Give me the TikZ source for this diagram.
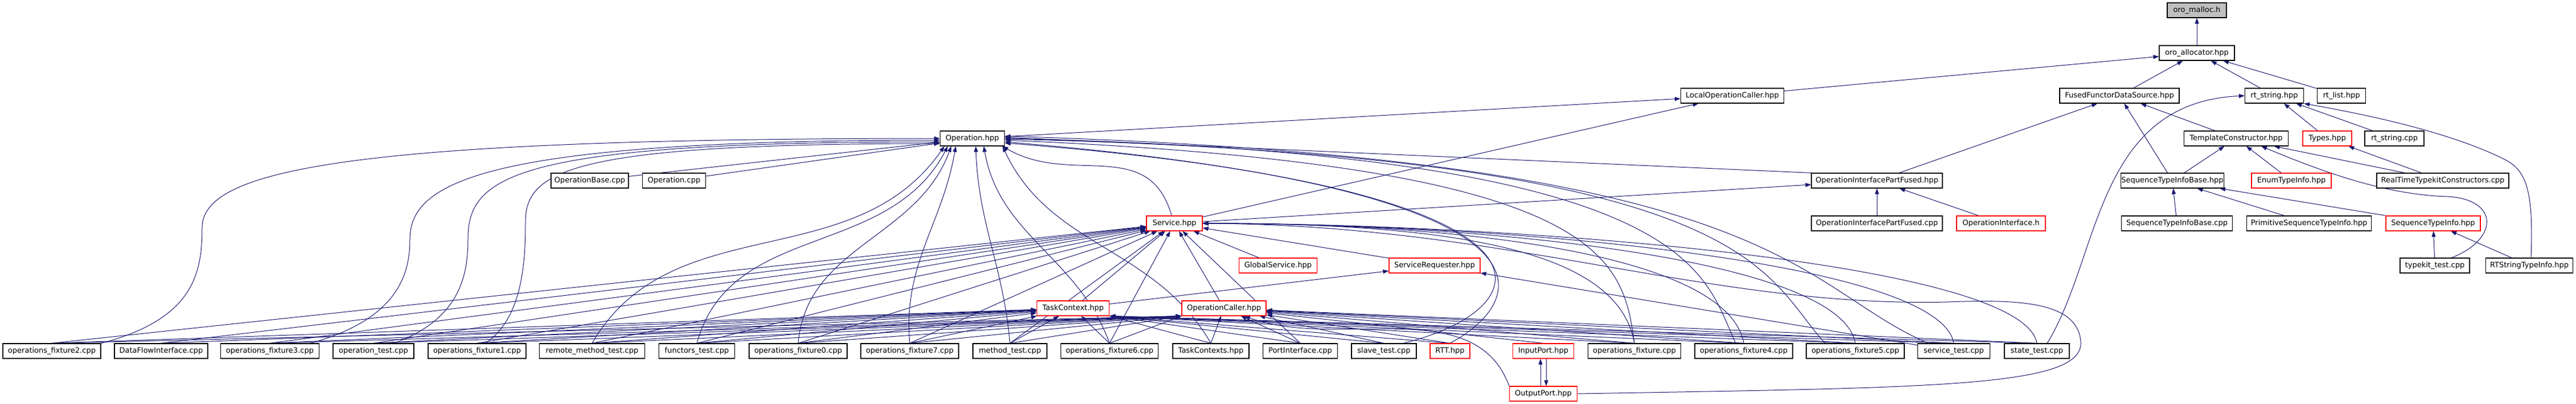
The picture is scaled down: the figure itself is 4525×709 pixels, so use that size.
\documentclass[tikz,border=0pt]{standalone}
\usepackage{fontspec}
\setmainfont{DejaVu Sans}
\usetikzlibrary{arrows.meta}
\definecolor{edgecol}{HTML}{191970}
\definecolor{boxgrey}{HTML}{BFBFBF}
\pgfdeclarelayer{edges}
\pgfsetlayers{edges,main}

\begin{document}
\begin{tikzpicture}[x=1pt, y=-1pt,
  box/.style={draw=black, fill=white, rectangle, line width=1.2pt, minimum height=26pt, inner sep=1pt, font=\fontsize{13}{15}\selectfont},
  redbox/.style={box, draw=red},
  dep/.style={draw=edgecol, line width=1pt, -{Triangle[length=10pt,width=7pt]}},
  every edge/.style={dep}]
\useasboundingbox (0,0) rectangle (4525,709);

\node (1)[box, fill=boxgrey, minimum width=104pt] at (3859,18) {oro\_malloc.h};
\node (2)[box, minimum width=132pt] at (3859,93) {oro\_allocator.hpp};
\node (3)[box, minimum width=181pt] at (3043,168) {LocalOperationCaller.hpp};
\node (4)[box, minimum width=210pt] at (3723,168) {FusedFunctorDataSource.hpp};
\node (5)[box, minimum width=103pt] at (3995,168) {rt\_string.hpp};
\node (6)[box, minimum width=85pt] at (4113,168) {rt\_list.hpp};
\node (7)[box, minimum width=113pt] at (1708,243) {Operation.hpp};
\node (8)[box, minimum width=183pt] at (3928,243) {TemplateConstructor.hpp};
\node (9)[redbox, minimum width=86pt] at (4088,243) {Types.hpp};
\node (10)[box, minimum width=104pt] at (4206,243) {rt\_string.cpp};
\node (11)[box, minimum width=136pt] at (1036,317) {OperationBase.cpp};
\node (12)[box, minimum width=111pt] at (1184,317) {Operation.cpp};
\node (13)[box, minimum width=230pt] at (3297,317) {OperationInterfacePartFused.hpp};
\node (14)[box, minimum width=165pt] at (3816,317) {SequenceTypeInfoBase.hpp};
\node (15)[redbox, minimum width=140pt] at (4025,317) {EnumTypeInfo.hpp};
\node (16)[box, minimum width=232pt] at (4291,317) {RealTimeTypekitConstructors.cpp};
\node (17)[redbox, minimum width=98pt] at (2063,392) {Service.hpp};
\node (18)[box, minimum width=230pt] at (3297,392) {OperationInterfacePartFused.cpp};
\node (19)[redbox, minimum width=156pt] at (3515,392) {OperationInterface.h};
\node (20)[box, minimum width=195pt] at (3824,392) {SequenceTypeInfoBase.cpp};
\node (21)[box, minimum width=219pt] at (4056,392) {PrimitiveSequenceTypeInfo.hpp};
\node (22)[redbox, minimum width=166pt] at (4274,392) {SequenceTypeInfo.hpp};
\node (23)[redbox, minimum width=137pt] at (2245,466) {GlobalService.hpp};
\node (24)[redbox, minimum width=160pt] at (2520,466) {ServiceRequester.hpp};
\node (25)[box, minimum width=122pt] at (4277,466) {typekit\_test.cpp};
\node (26)[box, minimum width=153pt] at (4443,466) {RTStringTypeInfo.hpp};
\node (27)[redbox, minimum width=127pt] at (1885,541) {TaskContext.hpp};
\node (28)[redbox, minimum width=148pt] at (2150,541) {OperationCaller.hpp};
% bottom row of files
\node (29)[box, minimum width=172pt] at (91,616) {operations\_fixture2.cpp};
\node (30)[box, minimum width=164pt] at (283,616) {DataFlowInterface.cpp};
\node (31)[box, minimum width=173pt] at (474,616) {operations\_fixture3.cpp};
\node (32)[box, minimum width=142pt] at (656,616) {operation\_test.cpp};
\node (33)[box, minimum width=172pt] at (838,616) {operations\_fixture1.cpp};
\node (34)[box, minimum width=185pt] at (1040,616) {remote\_method\_test.cpp};
\node (35)[box, minimum width=133pt] at (1224,616) {functors\_test.cpp};
\node (36)[box, minimum width=172pt] at (1402,616) {operations\_fixture0.cpp};
\node (37)[box, minimum width=172pt] at (1598,616) {operations\_fixture7.cpp};
\node (38)[box, minimum width=130pt] at (1774,616) {method\_test.cpp};
\node (39)[box, minimum width=171pt] at (1949,616) {operations\_fixture6.cpp};
\node (40)[box, minimum width=134pt] at (2127,616) {TaskContexts.hpp};
\node (41)[box, minimum width=131pt] at (2284,616) {PortInterface.cpp};
\node (42)[box, minimum width=114pt] at (2431,616) {slave\_test.cpp};
\node (43)[redbox, minimum width=70pt] at (2547,616) {RTT.hpp};
\node (44)[redbox, minimum width=107pt] at (2711,616) {InputPort.hpp};
\node (45)[box, minimum width=163pt] at (2871,616) {operations\_fixture.cpp};
\node (46)[box, minimum width=172pt] at (3063,616) {operations\_fixture4.cpp};
\node (47)[box, minimum width=172pt] at (3259,616) {operations\_fixture5.cpp};
\node (48)[box, minimum width=127pt] at (3432,616) {service\_test.cpp};
\node (49)[box, minimum width=114pt] at (3578,616) {state\_test.cpp};
\node (50)[redbox, minimum width=119pt] at (2711,691) {OutputPort.hpp};

\begin{pgfonlayer}{edges}
\path (2) edge (1)
      (3) edge (2)
      (4) edge (2)
      (5) edge (2)
      (6) edge (2)
      (7) edge (3)
      (17) edge (3)
      (13) edge (4)
      (14) edge (4)
      (8) edge (4)
      (9) edge (5)
      (10) edge (5)
      (14) edge (8)
      (15) edge (8)
      (16) edge (8)
      (16) edge (9)
      (20) edge (14)
      (21) edge (14)
      (22) edge (14)
      (25) edge (22)
      (26) edge (22)
      (18) edge (13)
      (19) edge (13)
      (17) edge (13)
      (11) edge (7)
      (12) edge (7)
      (13.north west) edge ([yshift=2pt]7.east)
      (23) edge (17)
      (24) edge (17)
      (27) edge (17)
      (28) edge (17)
      (27) edge (24)
      (48) edge (24);
\draw[dep] (17.110) .. controls +(-40,-140) and +(120,70) .. ([xshift=-4pt]7.south east);

% Service.hpp
\foreach \f in {29,30,31,32,33,34,35,36,37,38,39,41}
  \path (\f.north) edge (17);
\foreach \f in {45,46,47,48,49}
  \draw[dep] (\f.north) .. controls +(-26,-148) and +(500,0) .. (17.east);

% TaskContext.hpp
\foreach \f in {29,...,39}
  \path (\f.north) edge (27);
\foreach \f in {40,41,42,43,45,46,47,48,49}
  \path (\f.north) edge (27.south east);

% OperationCaller.hpp
\foreach \f in {29,31,32,33,34,35,36,37,38,39}
  \path (\f.north) edge (28.south west);
\foreach \f in {40,41,42,43,44,45,46,47,48,49}
  \path (\f.north) edge (28);

% Operation.hpp
\draw[dep] (29.north east) .. controls (340,560) and (355,480) .. (355,400)
  .. controls (355,300) and (600,243) .. (7.west);
\draw[dep] ([xshift=-16pt]31.north east) .. controls (700,560) and (720,480) .. (720,420)
  .. controls (720,320) and (850,246) .. ([yshift=-3pt]7.west);
\draw[dep] ([xshift=-36pt]32.north east) .. controls (810,560) and (822,480) .. (822,420)
  .. controls (822,310) and (900,249) .. ([yshift=-6pt]7.west);
\draw[dep] ([xshift=-72pt]33.north east) .. controls (915,560) and (923,470) .. (923,390)
  .. controls (923,300) and (1000,252) .. ([yshift=-9pt]7.west);
\draw[dep] (34.north) .. controls +(140,-240) and +(-160,230) .. ([xshift=8pt]7.south west);
\draw[dep] (35.north) .. controls +(60,-215) and +(-105,200) .. ([xshift=14pt]7.south west);
\draw[dep] (36.north) .. controls +(15,-171) and +(-59,162) .. ([xshift=20pt]7.south west);
\draw[dep] (37.north) .. controls +(-12,-139) and +(-24,138) .. ([xshift=28pt]7.south west);
\draw[dep] (38.north) .. controls +(-12,-137) and +(5,138) .. ([xshift=6pt]7.south);
\draw[dep] (39.north) .. controls +(-55,-151) and +(28,158) .. ([xshift=20pt]7.south);
\draw[dep] (40.north) .. controls +(-99,-171) and +(83,179) .. ([xshift=-4pt]7.south east);
\draw[dep] ([xshift=34pt]42.north) .. controls (2720,540) and (2790,330) .. ([yshift=-8pt]7.east);
\draw[dep] (43.north) .. controls (2700,520) and (2750,330) .. ([yshift=-6pt]7.east);
\draw[dep] (45.north) .. controls (2850,450) and (2820,290) .. ([yshift=-3pt]7.east);
\draw[dep] ([xshift=-14pt]46.north) .. controls (2990,480) and (2990,270) .. (7.east);
\draw[dep] ([xshift=-53pt]47.north) .. controls (3093,480) and (3093,275) .. ([yshift=-1pt]7.east);
\draw[dep] ([xshift=-45pt]48.north) .. controls (3150,500) and (3140,280) .. ([yshift=4pt]7.east);

% long ones on the right
\draw[dep] ([xshift=18pt]49.north) .. controls (3690,450) and (3680,180) .. (5.west);
\draw[dep] ([xshift=3pt]26.north) .. controls (4450,340) and (4440,300) .. (4400,280)
  .. controls (4300,230) and (4150,200) .. (5.south east);
\draw[dep] ([xshift=29pt]25.north) .. controls (4390,420) and (4390,350) .. (4300,345)
  .. controls (4200,342) and (4100,310) .. ([xshift=44pt]8.south);
\draw[dep] (50.east) .. controls (3400,680) and (3660,680) .. (3655,600)
  .. controls (3650,530) and (3550,525) .. (3420,530)
  .. controls (3000,540) and (2650,395) .. (17.east);
\draw[dep] (50.north west) .. controls +(-60,-164) and +(164,60) .. ([xshift=36pt]28.south);
\draw[dep] ([xshift=-5pt]50.north) -- ([xshift=-5pt]44.south);
\draw[dep] ([xshift=5pt]44.south) -- ([xshift=5pt]50.north);
\end{pgfonlayer}
\end{tikzpicture}
\end{document}
